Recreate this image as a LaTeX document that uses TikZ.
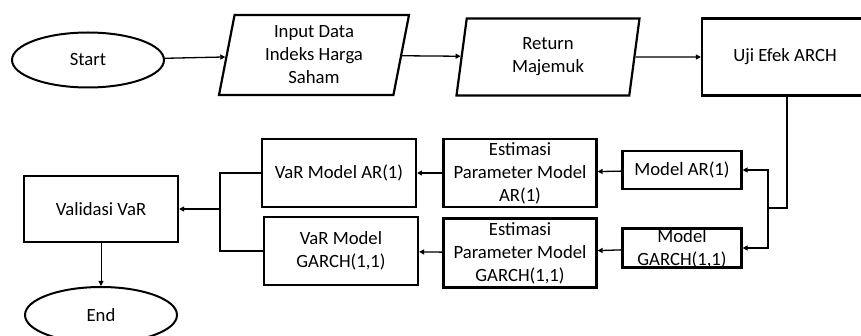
\documentclass[tikz,border=0pt]{standalone}
\usepackage{fontspec}
\setmainfont{Carlito}
\usetikzlibrary{arrows.meta,shapes.geometric}

\begin{document}
\begin{tikzpicture}[x=1pt, y=-1pt,
  font=\fontsize{18.7}{23}\selectfont,
  box/.style={draw, line width=2.2pt, rectangle, align=center, inner sep=0pt},
  term/.style={draw, line width=2pt, ellipse, minimum width=152pt, minimum height=55pt, inner sep=0pt},
  data/.style={draw, line width=2.2pt, trapezium, trapezium left angle=75, trapezium right angle=105,
    trapezium stretches body, align=center, inner sep=0pt},
  flow/.style={line width=1.3pt, -{Triangle[length=5pt,width=5pt]}}]
\useasboundingbox (0,0) rectangle (861,336);

\node[term] (start) at (88,60) {Start};
\node[data, minimum width=190pt, minimum height=80pt] (input) at (314,55) {Input Data\\Indeks Harga\\Saham};
\node[data, minimum width=183pt, minimum height=77pt] (ret) at (548,57) {Return\\Majemuk};
\node[box, minimum width=190pt, minimum height=77pt] (uji) at (797,57) {Uji Efek ARCH\hspace*{24pt}};

\node[box, minimum width=119pt, minimum height=38pt] (modar) at (682,170) {Model AR(1)};
\node[box, minimum width=119pt, minimum height=39pt, text height=36pt, text depth=0pt] (modgarch) at (682,248) {Model\\GARCH(1,1)};
\node[box, minimum width=153pt, minimum height=68pt] (estar) at (520,173) {Estimasi\\Parameter Model\\AR(1)};
\node[box, minimum width=153pt, minimum height=69pt] (estgarch) at (520,253) {Estimasi\\Parameter Model\\GARCH(1,1)};
\node[box, minimum width=154pt, minimum height=68pt] (varar) at (339,173) {VaR Model AR(1)};
\node[box, minimum width=154pt, minimum height=68pt] (vargarch) at (341,251) {VaR Model\\GARCH(1,1)};
\node[box, minimum width=154pt, minimum height=66pt] (valid) at (101,209) {Validasi VaR};
\node[term, minimum height=56pt] (end) at (101,315) {End};

\coordinate (split) at (768,208);
\coordinate (join) at (220,209);

\draw[flow] (start) -- (input);
\draw[flow] (input) -- (ret);
\draw[flow] (ret) -- (uji);
\draw[line width=1.3pt] (uji.south) ++(-10,0) |- (split);
\draw[flow] (split) |- (modar.east);
\draw[flow] (split) |- (modgarch.east);
\draw[flow] (modar) -- (estar);
\draw[flow] (modgarch) -- (estgarch);
\draw[flow] (estar) -- (varar);
\draw[flow] (estgarch) -- (vargarch);
\draw[line width=1.3pt] (varar.west) -| (join) |- (vargarch.west);
\draw[flow] (join) -- (valid.east);
\draw[flow, line width=0.8pt] (valid) -- (end);
\end{tikzpicture}
\end{document}
